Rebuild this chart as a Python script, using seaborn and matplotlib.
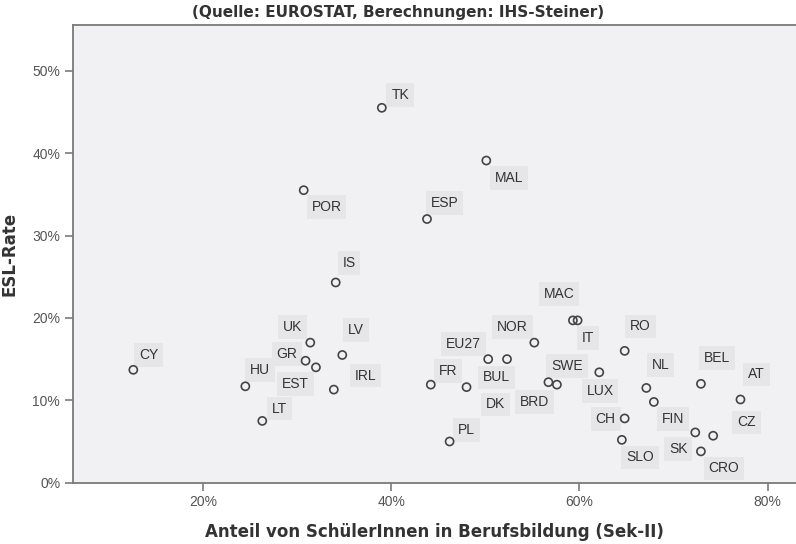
import matplotlib
matplotlib.use("Agg")
import matplotlib.pyplot as plt
import seaborn as sns
import pandas as pd
from matplotlib.ticker import FuncFormatter, FixedLocator

countries = ["CY", "HU", "LT", "GR", "UK", "EST", "LV", "IRL", "IS", "POR",
             "TK", "ESP", "MAL", "FR", "PL", "DK", "EU27", "BUL", "NOR", "MAC",
             "IT", "BRD", "SWE", "LUX", "RO", "CH", "SLO", "NL", "FIN", "SK",
             "CZ", "CRO", "BEL", "AT"]
vet_share = [12.6, 24.5, 26.3, 30.9, 31.4, 32.0, 34.8, 33.9, 34.1, 30.7,
             39.0, 43.8, 50.1, 44.2, 46.2, 48.0, 50.3, 52.3, 55.2, 59.3,
             59.8, 56.7, 57.6, 62.1, 64.8, 64.8, 64.5, 67.1, 67.9, 72.3,
             74.2, 72.9, 72.9, 77.1]
esl_rate = [13.7, 11.7, 7.5, 14.8, 17.0, 14.0, 15.5, 11.3, 24.3, 35.5,
            45.5, 32.0, 39.1, 11.9, 5.0, 11.6, 15.0, 15.0, 17.0, 19.7,
            19.7, 12.2, 11.9, 13.4, 16.0, 7.8, 5.2, 11.5, 9.8, 6.1,
            5.7, 3.8, 12.0, 10.1]
x_ticks = [20, 40, 60, 80]
y_ticks = [0, 10, 20, 30, 40, 50]

# label offsets in pixels (dx right, dy down) -- layout only
label_offsets = {
    "CY": (15.6, -15), "HU": (14.3, -16), "LT": (17, -12.4), "GR": (-18.4, -6.7),
    "UK": (-17.4, -15.4), "EST": (-20.7, 17), "LV": (14, -25.3), "IRL": (31.7, -14),
    "IS": (13.3, -19.4), "POR": (22.7, 16.6), "TK": (18.3, -12.7), "ESP": (17.7, -16),
    "MAL": (22.6, 17.3), "FR": (17.3, -13.3), "PL": (17.2, -11.7), "DK": (29, 17.3),
    "EU27": (-25, -15.3), "BUL": (-10.6, 18.3), "NOR": (-21.6, -15.4),
    "MAC": (-14, -26.7), "IT": (10.6, 17.3), "BRD": (-14.3, 20), "SWE": (10, -18.3),
    "LUX": (0.7, 19), "RO": (15.7, -24.4), "CH": (-19, 0.7), "SLO": (18.3, 17.6),
    "NL": (14, -22.6), "FIN": (19, 17), "SK": (-17, 16.7), "CZ": (33.4, -13.3),
    "CRO": (23, 17), "BEL": (15.7, -26), "AT": (16, -25),
}

df = pd.DataFrame({"country": countries, "vet": vet_share, "esl": esl_rate})

sns.set_style("white")
plt.rcParams["font.family"] = ["Liberation Sans", "DejaVu Sans"]

fig = plt.figure(figsize=(7.96, 5.44), dpi=100)
ax = fig.add_axes([72.7 / 796, 1 - 482.7 / 544, 1 - 72.7 / 796, (482.7 - 25) / 544])
ax.set_facecolor("#f1f1f3")

sns.scatterplot(data=df, x="vet", y="esl", ax=ax, s=34, marker="o",
                facecolor="none", edgecolor="#444444", linewidth=1.2, zorder=3)

for c, xv, yv in zip(countries, vet_share, esl_rate):
    dx, dy = label_offsets[c]
    ax.annotate(c, (xv, yv), xytext=(dx, -dy), textcoords="offset pixels",
                ha="center", va="center", fontsize=10, color="#333333",
                bbox=dict(boxstyle="square,pad=0.35", facecolor="#e6e6e8",
                          edgecolor="none"), zorder=2)

ax.set_xlim(6.16, 83.0)
ax.set_ylim(0, 55.55)
ax.xaxis.set_major_locator(FixedLocator(x_ticks))
ax.yaxis.set_major_locator(FixedLocator(y_ticks))
pct = FuncFormatter(lambda v, p: f"{v:.0f}%")
ax.xaxis.set_major_formatter(pct)
ax.yaxis.set_major_formatter(pct)

for side in ["left", "bottom", "top"]:
    ax.spines[side].set_visible(True)
    ax.spines[side].set_color("#7a7a7a")
    ax.spines[side].set_linewidth(1.3)
ax.spines["right"].set_visible(False)
ax.tick_params(axis="both", direction="out", length=6, width=1.2, color="#7a7a7a",
               labelsize=10, labelcolor="#555555", pad=3)
ax.tick_params(left=True, bottom=True)

bold_font = ["DejaVu Sans"]
ax.set_xlabel("Anteil von SchülerInnen in Berufsbildung (Sek-II)", fontsize=12,
              fontweight="bold", color="#333333", labelpad=10, family=bold_font)
ax.set_ylabel("ESL-Rate", fontsize=12, fontweight="bold", color="#333333",
              labelpad=10, family=bold_font)
fig.text(398 / 796, 1 - 12 / 544, "(Quelle: EUROSTAT, Berechnungen: IHS-Steiner)",
         ha="center", va="center", fontsize=11, fontweight="bold", color="#333333",
         family=bold_font)

fig.savefig("out.png", dpi=100)
